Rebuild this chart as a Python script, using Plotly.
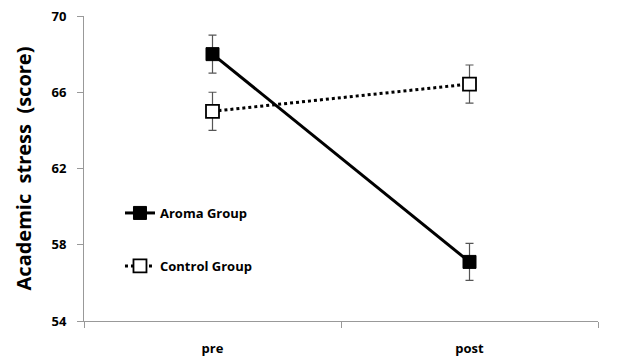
import plotly.graph_objects as go

categories = ["pre", "post"]
aroma_mean = [68.0, 57.1]
aroma_err = [1.0, 0.97]
control_mean = [65.0, 66.43]
control_err = [1.0, 1.0]
y_ticks = [54, 58, 62, 66, 70]

FONT = "Open Sans"

fig = go.Figure()
fig.add_trace(go.Scatter(
    x=categories, y=aroma_mean, name="Aroma Group", mode="lines+markers",
    line=dict(color="black", width=3),
    marker=dict(symbol="square", size=13, color="black", line=dict(color="black", width=1)),
    error_y=dict(type="data", array=aroma_err, color="#555555", thickness=1.2, width=4),
    legend="legend",
))
fig.add_trace(go.Scatter(
    x=categories, y=control_mean, name="Control Group", mode="lines+markers",
    line=dict(color="black", width=3, dash="dot"),
    marker=dict(symbol="square", size=13, color="white", line=dict(color="black", width=1.8)),
    error_y=dict(type="data", array=control_err, color="#555555", thickness=1.2, width=4),
    legend="legend2",
))

legend_common = dict(
    font=dict(family=FONT, size=13, color="black", weight="bold"),
    bgcolor="rgba(0,0,0,0)", xanchor="left", yanchor="middle",
)
fig.update_layout(
    width=617, height=361,
    margin=dict(l=84, r=19, t=16, b=40),
    plot_bgcolor="white", paper_bgcolor="white",
    font=dict(family=FONT, color="black"),
    showlegend=True,
    legend=dict(x=0.07, y=1 - (213 - 16) / 305, **legend_common),
    legend2=dict(x=0.07, y=1 - (266 - 16) / 305, **legend_common),
    xaxis=dict(
        type="category", showline=True, linecolor="#999999", linewidth=1,
        ticks="outside", tickson="boundaries", ticklen=6, tickcolor="#999999",
        showgrid=False, zeroline=False, ticklabelstandoff=15, automargin=False,
        tickfont=dict(family=FONT, size=13, color="black", weight="bold"),
        range=[-0.5, 1.5],
    ),
    yaxis=dict(
        range=[54, 70], tickvals=y_ticks, showline=True, linecolor="#999999", linewidth=1,
        ticks="outside", ticklen=6, tickcolor="#999999", showgrid=False, zeroline=False,
        ticklabelstandoff=8, automargin=False,
        tickfont=dict(family=FONT, size=13, color="black", weight="bold"),
        title=dict(text="Academic\u00a0\u00a0stress\u00a0\u00a0(score)", standoff=14,
                   font=dict(family=FONT, size=20, color="black", weight="bold")),
    ),
)

fig.write_html("out.html")
